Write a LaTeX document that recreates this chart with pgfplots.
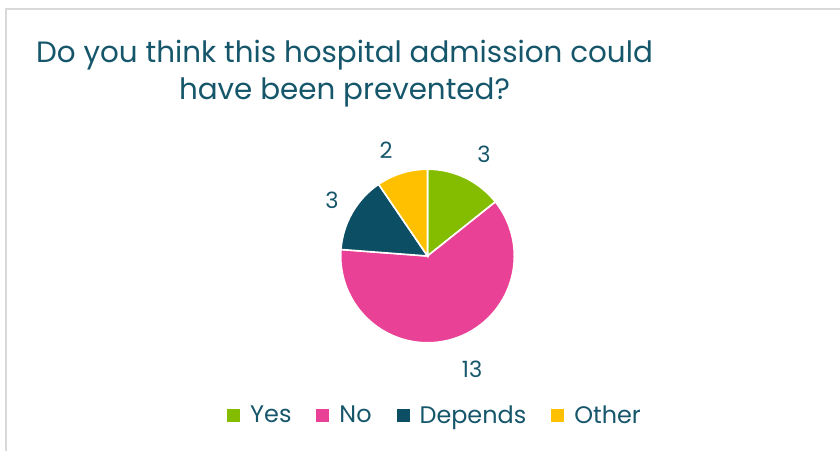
\documentclass[border=0pt]{standalone}
\usepackage{fontspec}
\setmainfont{Poppins}
\usepackage{pgfplots}
\usepackage{pgfplotstable}
\pgfplotsset{compat=1.18}
\definecolor{titlecol}{RGB}{22,86,107}
\definecolor{yescol}{RGB}{132,189,0}
\definecolor{nocol}{RGB}{232,65,150}
\definecolor{depcol}{RGB}{12,78,100}
\definecolor{othcol}{RGB}{255,192,0}
\definecolor{framecol}{RGB}{217,217,217}
\pgfplotstableread{
label value
Yes 3
No 13
Depends 3
Other 2
}\piedata
\begin{document}
\begin{tikzpicture}[x=1bp,y=1bp]
\pgfplotstablegetelem{0}{value}\of\piedata \let\vA\pgfplotsretval
\pgfplotstablegetelem{1}{value}\of\piedata \let\vB\pgfplotsretval
\pgfplotstablegetelem{2}{value}\of\piedata \let\vC\pgfplotsretval
\pgfplotstablegetelem{3}{value}\of\piedata \let\vD\pgfplotsretval
\pgfmathsetmacro\tot{\vA+\vB+\vC+\vD}
\pgfmathsetmacro\aA{90-360*\vA/\tot}
\pgfmathsetmacro\aB{\aA-360*\vB/\tot}
\pgfmathsetmacro\aC{\aB-360*\vC/\tot}
\pgfmathsetmacro\aD{\aC-360*\vD/\tot}
\path[use as bounding box] (0,0) rectangle (840,451);
\draw[framecol, line width=2.2bp] (6.3,0) -- (6.3,441.7) -- (840,441.7);
\node[anchor=base, text=titlecol, font=\fontsize{29.5}{35}\selectfont] at (344.5,451-63) {Do you think this hospital admission could};
\node[anchor=base, text=titlecol, font=\fontsize{29.5}{35}\selectfont] at (344.5,451-100) {have been prevented?};
\begin{axis}[
  at={(427.5bp,195bp)}, anchor=origin,
  x=86.8bp, y=86.8bp,
  xmin=-1, xmax=1, ymin=-1, ymax=1,
  hide axis, clip=false,
  legend columns=-1,
  legend image code/.code={\fill[#1, draw=none] (0bp,-6.5bp) rectangle (13bp,6.5bp);},
  legend style={draw=none, fill=none, at={(0.5375,-0.417)}, anchor=center,
    font=\fontsize{24}{28}\selectfont, text=titlecol,
    nodes={inner sep=0pt},
    /tikz/every odd column/.append style={column sep=10bp},
    /tikz/every even column/.append style={column sep=25bp}},
]
\addplot[fill=yescol, draw=white, line width=1.6bp, domain=\aA:90, samples=40] ({cos(x)},{sin(x)}) -- (axis cs:0,0) -- cycle;
\addlegendentry{Yes}
\addplot[fill=nocol, draw=white, line width=1.6bp, domain=\aB:\aA, samples=120] ({cos(x)},{sin(x)}) -- (axis cs:0,0) -- cycle;
\addlegendentry{No}
\addplot[fill=depcol, draw=white, line width=1.6bp, domain=\aC:\aB, samples=40] ({cos(x)},{sin(x)}) -- (axis cs:0,0) -- cycle;
\addlegendentry{Depends}
\addplot[fill=othcol, draw=white, line width=1.6bp, domain=\aD:\aC, samples=40] ({cos(x)},{sin(x)}) -- (axis cs:0,0) -- cycle;
\addlegendentry{Other}
\node[text=titlecol, font=\fontsize{22.5}{26}\selectfont] at (axis cs:0.651,1.175) {\vA};
\node[text=titlecol, font=\fontsize{22.5}{26}\selectfont] at (axis cs:0.513,-1.302) {\vB};
\node[text=titlecol, font=\fontsize{22.5}{26}\selectfont] at (axis cs:-1.100,0.645) {\vC};
\node[text=titlecol, font=\fontsize{22.5}{26}\selectfont] at (axis cs:-0.478,1.221) {\vD};
\end{axis}
\end{tikzpicture}
\end{document}
